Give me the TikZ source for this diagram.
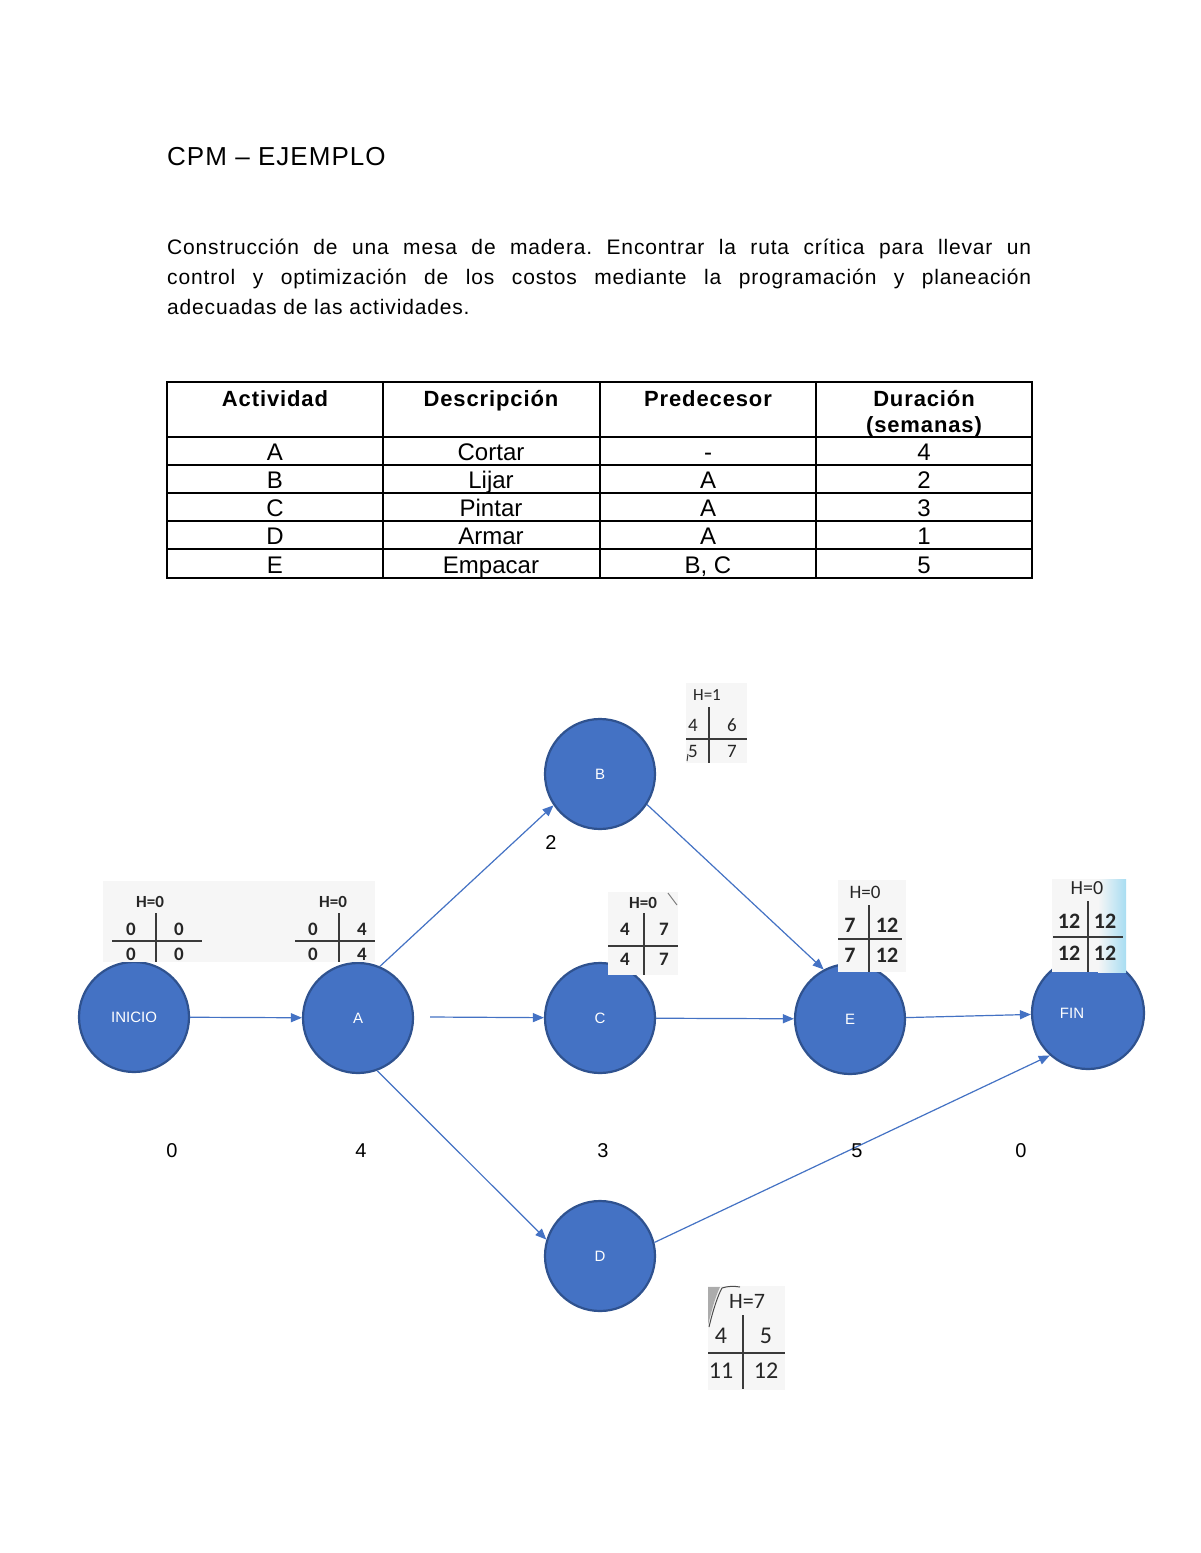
\documentclass[tikz,border=0pt]{standalone}
\usepackage{fontspec}
\setmainfont{Liberation Sans}
\newfontfamily\spacedfont[LetterSpace=4]{Liberation Sans}
\newfontfamily\boxfont{Carlito}
\usetikzlibrary{arrows.meta}
\definecolor{nodeblue}{HTML}{4472C4}
\definecolor{nodeedge}{HTML}{2F528F}
\definecolor{boxgray}{HTML}{F6F6F6}
\definecolor{crossgray}{HTML}{3A3A3A}
\definecolor{lightcyan}{HTML}{A8DDF2}
\frenchspacing
\begin{document}
\begin{tikzpicture}[x=1pt,y=-1pt,
 act/.style={circle, fill=nodeblue, draw=nodeedge, line width=2.2pt, minimum size=110pt, inner sep=0pt, text=white, font=\fontsize{15}{15}\selectfont},
 flow/.style={draw=nodeblue, line width=1.2pt, -{Triangle[length=11pt,width=9pt]}},
 wt/.style={font=\fontsize{20}{20}\selectfont, text=black, inner sep=0pt},
 hbox/.style={fill=boxgray, draw=none},
 cross/.style={draw=crossgray, line width=1.4pt},
 htxt/.style={font=\boxfont\bfseries\fontsize{17}{17}\selectfont, inner sep=0pt, text=black!85},
 num/.style={font=\boxfont\bfseries\fontsize{19}{19}\selectfont, inner sep=0pt, text=black!85},
 bignum/.style={font=\boxfont\bfseries\fontsize{22}{22}\selectfont, inner sep=0pt, text=black!85},
 tline/.style={draw=black, line width=1.5pt},
 thead/.style={font=\spacedfont\bfseries\fontsize{22}{22}\selectfont, anchor=base, inner sep=0pt},
 tcell/.style={font=\fontsize{24}{24}\selectfont, anchor=base, inner sep=0pt},
 ptext/.style={font=\spacedfont\fontsize{21}{21}\selectfont, anchor=base west, inner sep=0pt},
]
\useasboundingbox (0,0) rectangle (1200,1553);
\fill[white] (0,0) rectangle (1200,1553);

% ---------- title and paragraph ----------
\node[font=\spacedfont\fontsize{26}{26}\selectfont, anchor=base west, inner sep=0pt] (title) at (167,165) {CPM – EJEMPLO};
\node[ptext] (p1) at (167,254) {\makebox[864pt][s]{Construcción de una mesa de madera. Encontrar la ruta crítica para llevar un}};
\node[ptext] (p2) at (167,284) {\makebox[864pt][s]{control y optimización de los costos mediante la programación y planeación}};
\node[ptext] (p3) at (167,314) {adecuadas de las actividades.};

% ---------- table ----------
\draw[tline] (167,382) rectangle (1032,578);
\foreach \x in {383,600,816} \draw[tline] (\x,382) -- (\x,578);
\foreach \y in {437,465,493,521,549} \draw[tline] (167,\y) -- (1032,\y);
\node[thead] (h1) at (275,406) {Actividad};
\node[thead] (h2) at (491,406) {Descripción};
\node[thead] (h3) at (708,406) {Predecesor};
\node[thead] (h4a) at (924,406) {Duración};
\node[thead] (h4b) at (924,432) {(semanas)};
\node[tcell] (rA1) at (275,460.5) {A};
\node[tcell] (rA2) at (491,460.5) {Cortar};
\node[tcell] (rA3) at (708,460.5) {-};
\node[tcell] (rA4) at (924,460.5) {4};
\node[tcell] (rB1) at (275,488.5) {B};
\node[tcell] (rB2) at (491,488.5) {Lijar};
\node[tcell] (rB3) at (708,488.5) {A};
\node[tcell] (rB4) at (924,488.5) {2};
\node[tcell] (rC1) at (275,516.5) {C};
\node[tcell] (rC2) at (491,516.5) {Pintar};
\node[tcell] (rC3) at (708,516.5) {A};
\node[tcell] (rC4) at (924,516.5) {3};
\node[tcell] (rD1) at (275,544.5) {D};
\node[tcell] (rD2) at (491,544.5) {Armar};
\node[tcell] (rD3) at (708,544.5) {A};
\node[tcell] (rD4) at (924,544.5) {1};
\node[tcell] (rE1) at (275,573) {E};
\node[tcell] (rE2) at (491,573) {Empacar};
\node[tcell] (rE3) at (708,573) {B, C};
\node[tcell] (rE4) at (924,573) {5};

% ---------- activity nodes ----------
\node[act] (ini) at (134,1017) {INICIO};
\node[act] (A) at (358,1018) {A};
\node[act] (B) at (600,774) {B};
\node[act] (C) at (600,1018) {C};
\node[act] (D) at (600,1256) {D};
\node[act] (E) at (850,1019) {E};
\node[act, minimum size=112pt] (fin) at (1088,1013) {\hbox{FIN\kern32pt}};

% ---------- H boxes (drawn over the circles) ----------
% INICIO + A
\fill[hbox] (103,881) rectangle (375,962);
\node[htxt] (hIni) at (150,902) {H=0};
\draw[cross] (156,913) -- (156,962);
\draw[cross] (112,941) -- (202,941);
\node[num] (i11) at (131,929) {0};
\node[num] (i12) at (179,929) {0};
\node[num] (i21) at (131,954) {0};
\node[num] (i22) at (179,954) {0};
\node[htxt] (hA) at (333,902) {H=0};
\draw[cross] (339,913) -- (339,962);
\draw[cross] (295,941) -- (375,941);
\node[num] (a11) at (313,929) {0};
\node[num] (a12) at (362,929) {4};
\node[num] (a21) at (313,954) {0};
\node[num] (a22) at (362,954) {4};
% B
\fill[hbox] (686,683) rectangle (747,763);
\node[htxt, font=\boxfont\fontsize{17}{17}\selectfont] (hB) at (707,695) {H=1};
\draw[cross] (709,707) -- (709,763);
\draw[cross] (686,739) -- (747,739);
\node[num, font=\boxfont\fontsize{19}{19}\selectfont] (b11) at (693,725) {4};
\node[num, font=\boxfont\fontsize{19}{19}\selectfont] (b12) at (732,725) {6};
\node[num, font=\boxfont\fontsize{19}{19}\selectfont] (b21) at (693,751) {5};
\node[num, font=\boxfont\fontsize{19}{19}\selectfont] (b22) at (732,751) {7};
\draw[crossgray, line width=1pt] (688,754) -- (687,761);
% C
\fill[hbox] (608,892) rectangle (678,975);
\node[htxt] (hC) at (643,903) {H=0};
\draw[gray, line width=1pt] (668,893) -- (677,905);
\draw[cross] (644,913) -- (644,975);
\draw[cross] (608,946) -- (678,946);
\node[num] (c11) at (625,929) {4};
\node[num] (c12) at (664,929) {7};
\node[num] (c21) at (625,959) {4};
\node[num] (c22) at (664,959) {7};
% E
\fill[hbox] (838,880) rectangle (906,972);
\node[htxt, font=\boxfont\fontsize{19}{19}\selectfont] (hE) at (865,892) {H=0};
\draw[cross] (869,905) -- (869,972);
\draw[cross] (838,939) -- (902,939);
\node[bignum] (e11) at (850,925) {7};
\node[bignum] (e12) at (887,925) {12};
\node[bignum] (e21) at (850,955) {7};
\node[bignum] (e22) at (887,955) {12};
% FIN
\fill[hbox] (1052,879) rectangle (1098,972);
\shade[left color=boxgray, right color=lightcyan] (1098,879) rectangle (1126,972);
\node[htxt, font=\boxfont\fontsize{20}{20}\selectfont] (hF) at (1087,888) {H=0};
\draw[cross] (1088,901) -- (1088,972);
\draw[cross] (1053,937) -- (1123,937);
\node[bignum] (f11) at (1069,921) {12};
\node[bignum] (f12) at (1105,921) {12};
\node[bignum] (f21) at (1069,953) {12};
\node[bignum] (f22) at (1105,953) {12};
% D
\fill[hbox] (708,1286) rectangle (785,1390);
\fill[gray!65] (708,1287) -- (720,1287) .. controls (714,1300) and (711,1314) .. (708,1325) -- cycle;
\draw[black!70, line width=1pt] (709,1327) .. controls (713,1310) and (718,1295) .. (722,1288) .. controls (728,1286) and (734,1286) .. (740,1287);
\node[htxt, font=\boxfont\fontsize{22}{22}\selectfont] (hD) at (747,1301) {H=7};
\draw[cross] (743,1315) -- (743,1389);
\draw[cross] (708,1353) -- (785,1353);
\node[num, font=\boxfont\fontsize{24}{24}\selectfont] (d11) at (721,1336) {4};
\node[num, font=\boxfont\fontsize{24}{24}\selectfont] (d12) at (766,1336) {5};
\node[num, font=\boxfont\fontsize{24}{24}\selectfont] (d21) at (721,1371) {11};
\node[num, font=\boxfont\fontsize{24}{24}\selectfont] (d22) at (766,1371) {12};

% ---------- connectors ----------
\coordinate (acStart) at (430,1017);
\draw[flow] (ini) -- (A);
\draw[flow] (acStart) -- (C);
\draw[flow] (A.67) -- (B.214);
\draw[flow] (A.-70) -- (D.163);
\draw[flow] (B.-33) -- (E.118);
\draw[flow] (C) -- (E);
\draw[flow] (E) -- (fin);
\draw[flow] (D.14) -- (fin.228);

% ---------- durations ----------
\node[wt] (w2) at (551,843) {2};
\node[wt] (w0a) at (172,1151) {0};
\node[wt] (w4) at (361,1151) {4};
\node[wt] (w3) at (603,1151) {3};
\node[wt] (w5) at (857,1151) {5};
\node[wt] (w0b) at (1021,1151) {0};
\end{tikzpicture}
\end{document}
